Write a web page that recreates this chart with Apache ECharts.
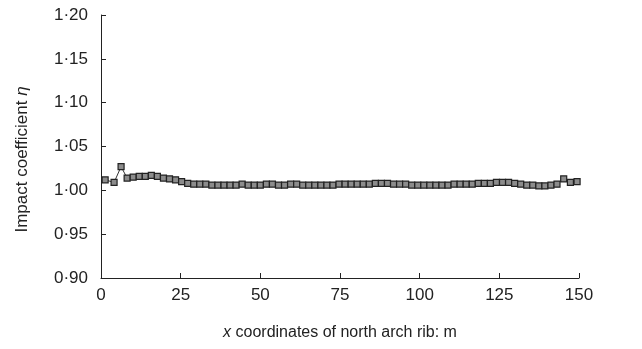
<!DOCTYPE html>
<html><head><meta charset="utf-8">
<script src="https://cdn.jsdelivr.net/npm/echarts@6/dist/echarts.min.js"></script>
<style>html,body{margin:0;padding:0;background:#fff}#c{width:642px;height:349px}</style>
</head><body><div id="c"></div>
<script>
var xCoords = [1.3,4.1,6.3,8.2,10.1,12.0,13.9,15.8,17.7,19.6,21.5,23.4,25.3,27.2,29.1,31.0,32.9,34.8,36.7,38.6,40.5,42.4,44.3,46.2,48.1,50.0,51.9,53.8,55.7,57.6,59.5,61.4,63.3,65.2,67.1,69.0,70.9,72.8,74.7,76.6,78.5,80.4,82.3,84.2,86.1,88.0,89.9,91.8,93.7,95.6,97.5,99.4,101.3,103.2,105.1,107.0,108.9,110.8,112.7,114.6,116.5,118.4,120.3,122.2,124.1,126.0,127.9,129.8,131.7,133.6,135.5,137.4,139.3,141.2,143.1,145.2,147.3,149.4];
var impact = [1.012,1.009,1.027,1.014,1.015,1.016,1.016,1.017,1.016,1.014,1.013,1.012,1.010,1.008,1.007,1.007,1.007,1.006,1.006,1.006,1.006,1.006,1.007,1.006,1.006,1.006,1.007,1.007,1.006,1.006,1.007,1.007,1.006,1.006,1.006,1.006,1.006,1.006,1.007,1.007,1.007,1.007,1.007,1.007,1.008,1.008,1.008,1.007,1.007,1.007,1.006,1.006,1.006,1.006,1.006,1.006,1.006,1.007,1.007,1.007,1.007,1.008,1.008,1.008,1.009,1.009,1.009,1.008,1.007,1.006,1.006,1.005,1.005,1.006,1.007,1.013,1.009,1.010];
var yTickLabels = ['0·90','0·95','1·00','1·05','1·10','1·15','1·20'];
var xTickLabels = ['0','25','50','75','100','125','150'];

var pts = xCoords.map(function(x,i){return [x, impact[i]];});
var chart = echarts.init(document.getElementById('c'));
var font = 'Liberation Sans, Arial, sans-serif';
chart.setOption({
  animation:false,
  grid:{left:101,right:63,top:15,bottom:71},
  xAxis:{type:'value',min:0,max:150,interval:25,
    axisLine:{lineStyle:{color:'#222',width:1}},
    axisTick:{inside:true,length:5,lineStyle:{color:'#222'}},
    splitLine:{show:false},
    axisLabel:{color:'#222',fontSize:17,fontFamily:font,margin:9,
      formatter:function(v){return xTickLabels[Math.round(v/25)];}},
    name:'{i|x} coordinates of north arch rib: m',nameLocation:'middle',nameGap:47,
    nameTextStyle:{color:'#222',fontSize:16,fontFamily:font,
      rich:{i:{fontStyle:'italic',fontSize:16,fontFamily:font,color:'#222'}}}
  },
  yAxis:{type:'value',min:0.9,max:1.2,interval:0.05,
    axisLine:{show:true,lineStyle:{color:'#222',width:1}},
    axisTick:{show:true,inside:true,length:5,lineStyle:{color:'#222'}},
    splitLine:{show:false},
    axisLabel:{color:'#222',fontSize:17,fontFamily:font,margin:13,
      formatter:function(v){return yTickLabels[Math.round((v-0.9)/0.05)];}},
    name:'Impact coefficient {i|η}',nameLocation:'middle',nameGap:70,
    nameTextStyle:{color:'#222',fontSize:17,fontFamily:font,padding:[0,26,0,0],
      rich:{i:{fontStyle:'italic',fontSize:17,fontFamily:font,color:'#222'}}}
  },
  series:[{type:'line',data:pts,symbol:'rect',symbolSize:6,showAllSymbol:true,
    lineStyle:{color:'#333',width:1},
    itemStyle:{color:'#8c8c8c',borderColor:'#222',borderWidth:1.2}
  }]
});
</script></body></html>
